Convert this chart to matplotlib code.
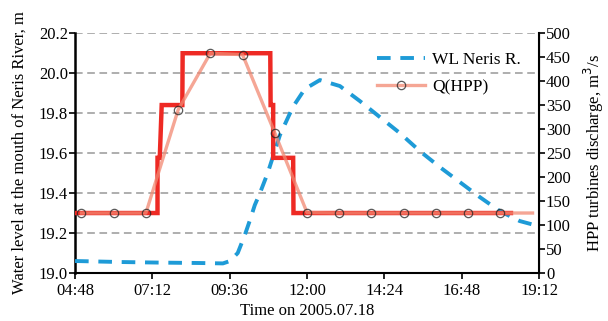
import matplotlib
matplotlib.use("Agg")
import matplotlib.pyplot as plt
import numpy as np

# ---- data (time in hours of day) ----
wl_time = [4.8, 6.2, 7.44, 8.68, 9.39, 9.61, 9.85, 10.07, 10.23, 10.38, 10.54, 10.78,
           11.16, 11.56, 11.93, 12.40, 13.02, 13.64, 14.26, 14.88, 15.50, 16.12,
           16.74, 17.36, 17.98, 18.60, 19.06]
wl_level = [19.06, 19.055, 19.052, 19.05, 19.048, 19.06, 19.10, 19.19, 19.265, 19.34,
            19.40, 19.50, 19.69, 19.83, 19.92, 19.965, 19.935, 19.86, 19.78, 19.70,
            19.61, 19.53, 19.455, 19.38, 19.31, 19.26, 19.24]

q_time = [5, 6, 7, 8, 9, 10, 11, 12, 13, 14, 15, 16, 17, 18, 19]
q_value = [125, 125, 125, 340, 458, 455, 292, 126, 125, 125, 125, 125, 125, 125, 125]

step_time = [4.8, 7.36, 7.36, 7.43, 7.49, 8.13, 8.14, 10.86, 10.87, 10.95, 10.95,
             11.57, 11.58, 18.33]
step_value = [125, 125, 240, 240, 350, 350, 458, 458, 350, 350, 240, 240, 125, 125]

xtick_hours = [4.8, 7.2, 9.6, 12.0, 14.4, 16.8, 19.2]
xtick_labels = ["04:48", "07:12", "09:36", "12:00", "14:24", "16:48", "19:12"]
left_ticks = [19.0, 19.2, 19.4, 19.6, 19.8, 20.0, 20.2]
right_ticks = list(range(0, 501, 50))

plt.rcParams['font.family'] = ['Liberation Serif', 'DejaVu Serif']
plt.rcParams['font.size'] = 12

fig = plt.figure(figsize=(6.08, 3.21), dpi=100)
ax = fig.add_axes([0.1234, 0.1495, 0.7631, 0.7475])
ax2 = ax.twinx()

ax.set_xlim(4.8, 19.2)
ax.set_ylim(19.0, 20.2)
ax2.set_ylim(0, 500)

# grid
for lv in left_ticks[1:]:
    ax.axhline(lv, color='#999999', lw=1.1, ls=(0, (5, 3)), zorder=0)

wl_line, = ax.plot(wl_time, wl_level, color='#1E9BD7', lw=2.8, ls=(0, (3.5, 2.5)),
                   label='WL Neris R.', zorder=3)

ax2.plot(step_time, step_value, color='#EE2A24', lw=3.2, solid_joinstyle='miter', zorder=2)
q_line, = ax2.plot(q_time, q_value, color='#F28872', lw=2.4, alpha=0.75,
                   marker='o', markersize=6, markerfacecolor='none',
                   markeredgecolor='#222222', markeredgewidth=0.9,
                   markevery=list(range(len(q_time) - 1)), label='Q(HPP)', zorder=3)

ax.set_xticks(xtick_hours)
ax.set_xticklabels(xtick_labels)
ax.set_yticks(left_ticks)
ax.set_yticklabels([f"{v:.1f}" for v in left_ticks])
ax2.set_yticks(right_ticks)

for a in (ax, ax2):
    a.spines['top'].set_visible(False)
    a.tick_params(direction='out', length=4, width=1.2, labelsize=12, pad=1)
ax.tick_params(axis='x', pad=3)
ax.spines['left'].set_linewidth(1.8)
ax.spines['bottom'].set_linewidth(1.5)
ax2.spines['right'].set_linewidth(1.5)
ax2.spines['left'].set_visible(False)
ax2.spines['bottom'].set_visible(False)

ax.set_xlabel("Time on 2005.07.18", fontsize=12, labelpad=3)
ax.set_ylabel("Water level at the mouth of Neris River, m", fontsize=12, labelpad=8)
ax2.set_ylabel("HPP turbines discharge, m$^3$/s", fontsize=12, labelpad=8)

leg = ax2.legend([wl_line, q_line], ['WL Neris R.', 'Q(HPP)'], loc='upper right',
                 bbox_to_anchor=(0.995, 0.985), frameon=False, fontsize=12.5,
                 handlelength=2.8, handletextpad=0.4, labelspacing=0.6)

fig.savefig("out.png", dpi=100)
